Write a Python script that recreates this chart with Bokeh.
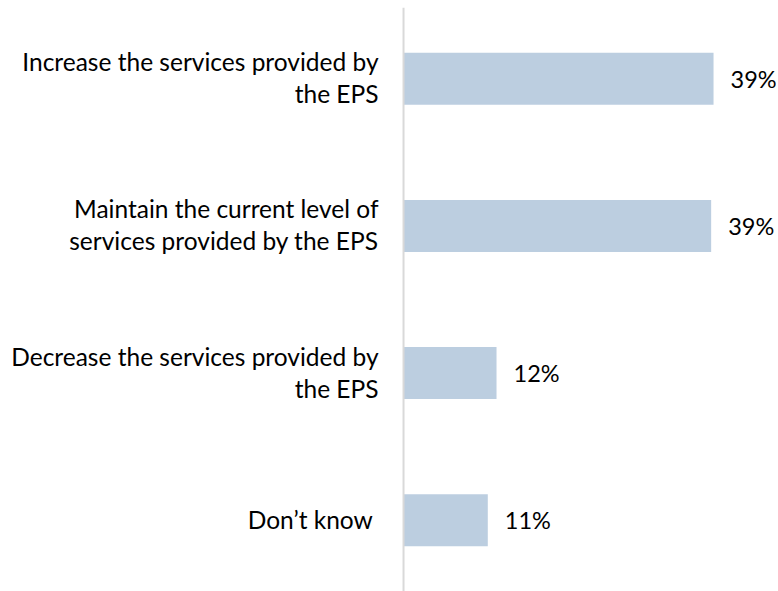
from bokeh.plotting import figure
from bokeh.models import ColumnDataSource, FactorRange, Range1d, Span
from bokeh.core.properties import value
from bokeh.embed import file_html
from bokeh.resources import INLINE

# ---- data ----
categories = [
    "Increase the services provided by\nthe EPS",
    "Maintain the current level of\nservices provided by the EPS",
    "Decrease the services provided by\nthe EPS",
    "Don\u2019t know\u00a0",
]
percent = [39.0, 38.7, 11.7, 10.6]
labels = [f"{round(v)}%" for v in percent]

# ---- styling ----
FONT = "Lato"
BAR_COLOR = "#BCCEE0"
AXIS_COLOR = "#D9D9D9"

source = ColumnDataSource(dict(cat=categories, pct=percent, lab=labels,
                               zero=[0] * len(categories)))

p = figure(
    width=776, height=591,
    x_range=Range1d(-50.70, 46.92),
    y_range=FactorRange(factors=list(reversed(categories)),
                        range_padding=-0.0165, range_padding_units="absolute"),
    output_backend="svg", toolbar_location=None,
    min_border=0, min_border_top=7,
)
p.axis.visible = False
p.xgrid.visible = False
p.ygrid.visible = False
p.outline_line_color = None
p.background_fill_color = "white"
p.border_fill_color = "white"

p.hbar(y="cat", right="pct", left=0, height=0.353, source=source,
       fill_color=BAR_COLOR, line_color=None)

p.add_layout(Span(location=0, dimension="height", line_color=AXIS_COLOR,
                  line_width=2))

# value labels
p.text(x="pct", y="cat", text="lab", source=source, x_offset=17,
       text_align="left", text_baseline="middle",
       text_font=value(FONT), text_font_size="23.5px", text_color="#000000")

# category labels
p.text(x="zero", y="cat", text="cat", source=source, x_offset=-25, y_offset=-1,
       text_align="right", text_baseline="middle", text_line_height=1.1,
       text_font=value(FONT), text_font_size="24.5px", text_color="#000000")

open("out.html", "w").write(file_html(p, INLINE))
